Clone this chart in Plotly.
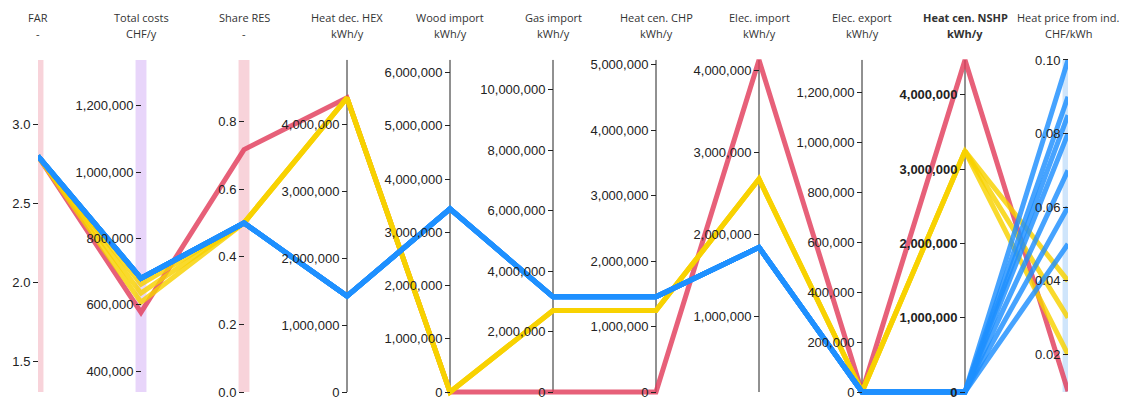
import plotly.graph_objects as go

# ---- dimensions (one vertical axis each) ----
dims = ["FAR", "Total costs", "Share RES", "Heat dec. HEX", "Wood import",
        "Gas import", "Heat cen. CHP", "Elec. import", "Elec. export",
        "Heat cen. NSHP", "Heat price from ind."]
units = ["-", "CHF/y", "-", "kWh/y", "kWh/y", "kWh/y", "kWh/y", "kWh/y",
         "kWh/y", "kWh/y", "CHF/kWh"]

# ---- scenarios (one polyline each) ----
group = ["red", "yellow", "yellow", "yellow",
         "blue", "blue", "blue", "blue", "blue", "blue", "blue"]
far = [2.8, 2.8, 2.8, 2.8, 2.8, 2.8, 2.8, 2.8, 2.8, 2.8, 2.8]
total_costs = [577000, 608000, 635000, 662000,
               680000, 680000, 680000, 680000, 680000, 680000, 680000]
share_res = [0.717, 0.5, 0.5, 0.5, 0.5, 0.5, 0.5, 0.5, 0.5, 0.5, 0.5]
heat_hex = [4400000, 4400000, 4400000, 4400000,
            1435000, 1435000, 1435000, 1435000, 1435000, 1435000, 1435000]
wood_import = [0, 0, 0, 0,
               3440000, 3440000, 3440000, 3440000, 3440000, 3440000, 3440000]
gas_import = [0, 2700000, 2700000, 2700000,
              3150000, 3150000, 3150000, 3150000, 3150000, 3150000, 3150000]
heat_chp = [0, 1245000, 1245000, 1245000,
            1455000, 1455000, 1455000, 1455000, 1455000, 1455000, 1455000]
elec_import = [4127000, 2674000, 2674000, 2674000,
               1839000, 1839000, 1839000, 1839000, 1839000, 1839000, 1839000]
elec_export = [0, 0, 0, 0, 0, 0, 0, 0, 0, 0, 0]
heat_nshp = [4467000, 3242000, 3242000, 3242000, 0, 0, 0, 0, 0, 0, 0]
heat_price = [0.01, 0.02, 0.03, 0.04, 0.05, 0.06, 0.07, 0.08, 0.085, 0.09, 0.10]

columns = [far, total_costs, share_res, heat_hex, wood_import, gas_import,
           heat_chp, elec_import, elec_export, heat_nshp, heat_price]

# axis ranges (bottom, top) and tick values for each dimension
ranges = [(1.305, 3.409), (337200, 1337700), (0.0, 0.982), (0, 4967000),
          (0, 6237000), (0, 10990000), (0, 5076000), (73000, 4127000),
          (0, 1330000), (0, 4467000), (0.0098, 0.100)]
tickvals = [
    [1.5, 2.0, 2.5, 3.0],
    [400000, 600000, 800000, 1000000, 1200000],
    [0.0, 0.2, 0.4, 0.6, 0.8],
    [0, 1000000, 2000000, 3000000, 4000000],
    [0, 1000000, 2000000, 3000000, 4000000, 5000000, 6000000],
    [0, 2000000, 4000000, 6000000, 8000000, 10000000],
    [0, 1000000, 2000000, 3000000, 4000000, 5000000],
    [1000000, 2000000, 3000000, 4000000],
    [0, 200000, 400000, 600000, 800000, 1000000, 1200000],
    [0, 1000000, 2000000, 3000000, 4000000],
    [0.02, 0.04, 0.06, 0.08, 0.10],
]
tickformats = [".1f", ",d", ".1f", ",d", ",d", ",d", ",d", ",d", ",d", ",d", ".2f"]

# constraint bars behind some axes
bar_colors = {0: "#F8D3DA", 1: "#E8D5FA", 2: "#F8D3DA", 10: "#CFE5FB"}
bold_dim = 9

line_colors = {"red": "rgb(226,62,92)", "yellow": "rgb(248,210,0)",
               "blue": "rgb(30,144,255)"}

# extra room above/below the [0, 1] normalised span so thick lines are not clipped
PAD_B = 6 / 334
PAD_T = 8 / 334

n_dim = len(dims)
xs = list(range(n_dim))


def normalise(v, lo, hi):
    return (v - lo) / (hi - lo)


fig = go.Figure()

# one polyline per scenario, drawn in normalised coordinates
order = ["red", "yellow", "blue"]
for g in order:
    for r, grp in enumerate(group):
        if grp != g:
            continue
        ys = [normalise(columns[d][r], *ranges[d]) for d in range(n_dim)]
        fig.add_trace(go.Scatter(
            x=xs, y=ys, mode="lines",
            line=dict(color=line_colors[g], width=5),
            opacity=0.82, hoverinfo="skip", showlegend=False,
        ))

layout_axes = {}
for d in range(n_dim):
    lo, hi = ranges[d]
    span = hi - lo
    name = f"yaxis{d + 2}"
    tf = dict(family="Arial", size=13, color="#222")
    if d == bold_dim:
        tf["weight"] = "bold"
    layout_axes[name] = dict(
        overlaying="y", anchor="free", position=d / (n_dim - 1), side="left",
        range=[lo - PAD_B * span, hi + PAD_T * span],
        tickmode="array", tickvals=tickvals[d], tickformat=tickformats[d],
        ticks="outside", ticklen=5, tickwidth=1, tickcolor="#222",
        tickfont=tf, ticklabeloverflow="allow",
        showgrid=False, zeroline=False, showline=False,
        fixedrange=True,
    )
    # invisible points that carry the raw values on each dimension's own axis
    fig.add_trace(go.Scatter(
        x=[d] * len(columns[d]), y=columns[d], yaxis=f"y{d + 2}",
        mode="markers", marker=dict(opacity=0), hoverinfo="skip",
        showlegend=False,
    ))

shapes = []
for d in range(n_dim):
    if d in bar_colors:
        shapes.append(dict(type="rect", xref="x", yref="y",
                           x0=d - 0.053, x1=d + 0.053, y0=0, y1=1,
                           fillcolor=bar_colors[d], line=dict(width=0),
                           layer="below"))
    else:
        shapes.append(dict(type="line", xref="x", yref="y",
                           x0=d, x1=d, y0=0, y1=1,
                           line=dict(color="#222", width=1), layer="below"))

annotations = []
for d in range(n_dim):
    title = dims[d]
    unit = units[d]
    if d == bold_dim:
        title = f"<b>{title}</b>"
        unit = f"<b>{unit}</b>"
    annotations.append(dict(x=d, y=1.099, xref="x", yref="paper", text=title,
                            showarrow=False, xanchor="center", yanchor="middle",
                            font=dict(family="Open Sans", size=11, color="#333")))
    annotations.append(dict(x=d, y=1.053, xref="x", yref="paper", text=unit,
                            showarrow=False, xanchor="center", yanchor="middle",
                            font=dict(family="Open Sans", size=11, color="#333")))

fig.update_layout(
    width=1125, height=401,
    margin=dict(l=38, r=57, t=52, b=1),
    paper_bgcolor="white", plot_bgcolor="white",
    xaxis=dict(range=[0, n_dim - 1], visible=False, fixedrange=True),
    yaxis=dict(range=[-PAD_B, 1 + PAD_T], visible=False, fixedrange=True),
    shapes=shapes, annotations=annotations,
    **layout_axes,
)

# keep the bottom tick labels from growing the page beyond the figure size
page_js = (
    "var gd = document.getElementById('{plot_id}');"
    "gd.style.overflow = 'hidden';"
    "document.body.style.margin = '0';"
    "document.documentElement.style.overflow = 'hidden';"
)

fig.write_html("out.html", config={"displayModeBar": False},
               post_script=page_js)
